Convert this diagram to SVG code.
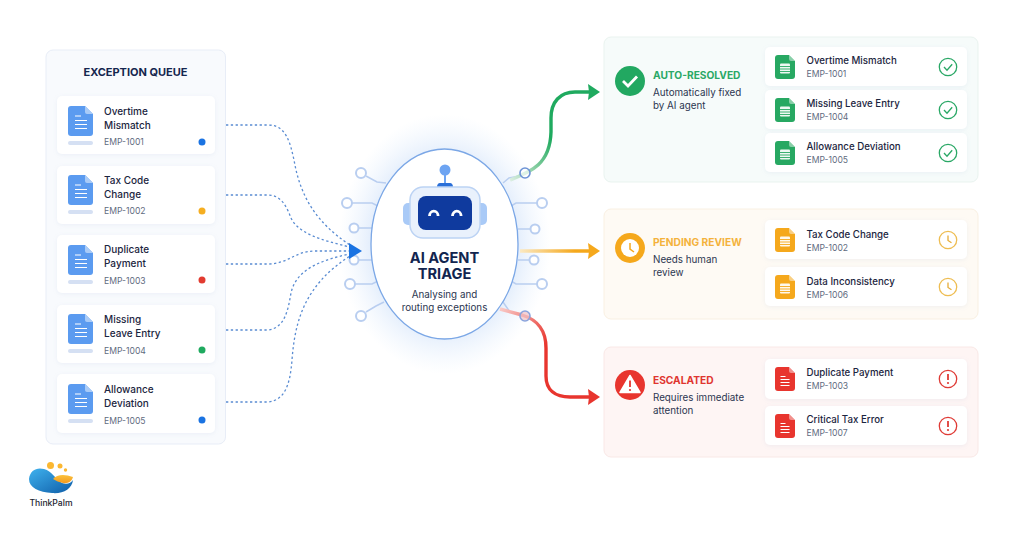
<svg xmlns="http://www.w3.org/2000/svg" width="1024" height="539" viewBox="0 0 1024 539">
<style>
text{font-family:Inter,"Liberation Sans",sans-serif}
.card{fill:#fff;filter:url(#sh)}
.t{font-size:10px;font-weight:500;fill:#1b2540}
.t2{font-size:9.700px;font-weight:500;fill:#1b2540}
.e{font-size:8.600px;fill:#5f6b80}
.h{font-size:10.200px;font-weight:700}
.d{font-size:9.800px;fill:#2b3650}
.dash{fill:none;stroke:#5a8cd2;stroke-width:1.300;stroke-dasharray:2.300 2.500}
.cir{fill:none;stroke:#b9cef0;stroke-width:1.500}
.cn{fill:#fff;stroke:#b9cef0;stroke-width:2}
</style>
<defs>
<filter id="sh" x="-10%" y="-20%" width="120%" height="140%"><feDropShadow dx="0" dy="1" stdDeviation="2" flood-color="#8aa0c8" flood-opacity=".12"/></filter>
<radialGradient id="glow"><stop offset=".68" stop-color="#c6dbf8" stop-opacity=".5"/><stop offset="1" stop-color="#dcebfc" stop-opacity="0"/></radialGradient>
<linearGradient id="gg" gradientUnits="userSpaceOnUse" x1="510" y1="180" x2="552" y2="140"><stop offset="0" stop-color="#dbeee2"/><stop offset=".5" stop-color="#7fcb9c"/><stop offset="1" stop-color="#1faa5f"/></linearGradient>
<linearGradient id="og" gradientUnits="userSpaceOnUse" x1="520" y1="0" x2="575" y2="0"><stop offset="0" stop-color="#fbe9c2"/><stop offset="1" stop-color="#f5a81c"/></linearGradient>
<linearGradient id="rg" gradientUnits="userSpaceOnUse" x1="500" y1="310" x2="546" y2="345"><stop offset="0" stop-color="#f9c9c6"/><stop offset="1" stop-color="#e8352e"/></linearGradient>
<linearGradient id="lb" x1="0" y1="0" x2="1" y2="1"><stop offset="0" stop-color="#3fb2ee"/><stop offset="1" stop-color="#0f5da8"/></linearGradient>
<linearGradient id="ly" x1="0" y1="0" x2="0" y2="1"><stop offset="0" stop-color="#fbc23c"/><stop offset="1" stop-color="#f39a1e"/></linearGradient>
<g id="docB"><path d="M3 0H17L25 8V27a3 3 0 0 1-3 3H3a3 3 0 0 1-3-3V3a3 3 0 0 1 3-3z" fill="#5b9bf0"/><path d="M17 0L25 8H19a2 2 0 0 1-2-2z" fill="#a9cbf7"/><path d="M7 10h6M7 14.500h12M7 18.500h12M7 22.500h12" stroke="#fff" stroke-width="1.100" fill="none"/><rect x="0" y="35" width="25" height="4" rx="2" fill="#d5e0f3"/></g>
<g id="docF"><path d="M3 0H14L20 6V21a3 3 0 0 1-3 3H3a3 3 0 0 1-3-3V3a3 3 0 0 1 3-3z"/><path d="M14 0L20 6H16a2 2 0 0 1-2-2z" fill="#fff" fill-opacity=".45"/><rect x="5" y="8.500" width="10" height="10" rx="1" fill="#fff" fill-opacity=".92"/><path d="M5 11.500h10M5 14h10M5 16.500h10" stroke="currentColor" stroke-width=".9" fill="none"/></g>
<g id="docS"><path d="M3 0H14L20 6V21a3 3 0 0 1-3 3H3a3 3 0 0 1-3-3V3a3 3 0 0 1 3-3z"/><path d="M14 0L20 6H16a2 2 0 0 1-2-2z" fill="#fff" fill-opacity=".45"/><path d="M5.500 9.500h5M5.500 12.500h9M5.500 15.500h9M5.500 18.500h9" stroke="#fff" stroke-width="1.100" fill="none"/></g>
<g id="ok"><circle r="8.700" fill="#fff" stroke="#2aa866" stroke-width="1.300"/><path d="M-4 0l3 3.200 5.200-6" fill="none" stroke="#2aa866" stroke-width="1.300"/></g>
<g id="clk"><circle r="8.700" fill="#fff" stroke="#eebd52" stroke-width="1.300"/><path d="M0-4.500V0.500L3.500 2.800" fill="none" stroke="#e6ad3a" stroke-width="1.300"/></g>
<g id="ex"><circle r="8.700" fill="#fff" stroke="#df3b36" stroke-width="1.300"/><path d="M0-5V1" stroke="#df3b36" stroke-width="1.800"/><circle cy="4" r="1.100" fill="#df3b36"/></g>
</defs>
<rect width="1024" height="539" fill="#fff"/>

<g id="queue">
<rect x="46" y="50" width="179.500" height="394" rx="7" fill="#f8fafd" stroke="#e8edf7"/>
<text x="135.500" y="75.500" text-anchor="middle" font-size="11px" font-weight="700" fill="#15264f">EXCEPTION QUEUE</text>
</g>
<g id="q1"><rect class="card" x="57" y="96" width="158" height="58" rx="5"/><use href="#docB" x="68" y="106"/><text class="t" x="104" y="115">Overtime</text><text class="t" x="104" y="129">Mismatch</text><text class="e" x="104" y="145">EMP-1001</text><circle cx="202" cy="142" r="3.500" fill="#1a73e2"/></g>
<g id="q2"><rect class="card" x="57" y="166" width="158" height="58" rx="5"/><use href="#docB" x="68" y="175"/><text class="t" x="104" y="184">Tax Code</text><text class="t" x="104" y="198">Change</text><text class="e" x="104" y="214">EMP-1002</text><circle cx="202" cy="211" r="3.500" fill="#f5ae21"/></g>
<g id="q3"><rect class="card" x="57" y="235" width="158" height="58" rx="5"/><use href="#docB" x="68" y="245"/><text class="t" x="104" y="253">Duplicate</text><text class="t" x="104" y="267">Payment</text><text class="e" x="104" y="284">EMP-1003</text><circle cx="202" cy="280" r="3.500" fill="#e23b30"/></g>
<g id="q4"><rect class="card" x="57" y="305" width="158" height="58" rx="5"/><use href="#docB" x="68" y="314"/><text class="t" x="104" y="323">Missing</text><text class="t" x="104" y="337">Leave Entry</text><text class="e" x="104" y="354">EMP-1004</text><circle cx="202" cy="350" r="3.500" fill="#1faa5f"/></g>
<g id="q5"><rect class="card" x="57" y="374" width="158" height="59" rx="5"/><use href="#docB" x="68" y="384"/><text class="t" x="104" y="393">Allowance</text><text class="t" x="104" y="407">Deviation</text><text class="e" x="104" y="424">EMP-1005</text><circle cx="202" cy="420" r="3.500" fill="#1a73e2"/></g>

<g id="triage">
<ellipse cx="444.500" cy="244" rx="106" ry="130" fill="url(#glow)"/>
<path class="cir" d="M366 176L377 182L386 183M352 203H372L378 206M359 228H372M359 260H372M355 284H372L378 281M366 312L376 306L384 302"/>
<path class="cir" d="M520 176L509 178L503 183M537 203H516L511 206M530 229H518M529 260H518M537 284H516L511 281M520 314L510 312L503 302"/>
<g><circle class="cn" cx="361" cy="173" r="5"/><circle class="cn" cx="347" cy="203" r="5"/><circle class="cn" cx="354" cy="228" r="4.500"/><circle class="cn" cx="354" cy="260" r="4.500"/><circle class="cn" cx="350" cy="284" r="5"/><circle class="cn" cx="361" cy="316" r="5"/><circle class="cn" cx="542" cy="203" r="5"/><circle class="cn" cx="535" cy="229" r="4.500"/><circle class="cn" cx="534" cy="260" r="4.500"/><circle class="cn" cx="542" cy="284" r="5"/></g>
<ellipse cx="444.500" cy="244" rx="73.500" ry="95" fill="#fff" stroke="#7ba7e6" stroke-width="1.300"/>
<circle cx="445" cy="170" r="5.500" fill="#6da4f2"/><path d="M445 174V183" stroke="#6da4f2" stroke-width="2"/><path d="M437 187.500a3 4 0 0 1 3-4.500h10a3 4 0 0 1 3 4.500z" fill="#2a6fd8"/>
<rect x="403" y="203" width="12" height="22" rx="5" fill="#a9caf7"/><rect x="475" y="203" width="12" height="22" rx="5" fill="#a9caf7"/>
<rect x="410" y="187" width="70" height="51" rx="13" fill="#e9f1fc" stroke="#bcd3f4" stroke-width="1.500"/>
<rect x="418" y="196" width="54" height="34" rx="8" fill="#0f3a9e"/>
<path d="M429.500 216a4.300 4.800 0 0 1 8.600 0M452.500 216a4.300 4.800 0 0 1 8.600 0" fill="none" stroke="#fff" stroke-width="2.800"/>
<text x="444.500" y="263" text-anchor="middle" font-size="14.600px" font-weight="700" fill="#12254f">AI AGENT</text>
<text x="444.500" y="279" text-anchor="middle" font-size="14.600px" font-weight="700" fill="#12254f">TRIAGE</text>
<text x="444.500" y="298" text-anchor="middle" font-size="9.800px" fill="#2b3650">Analysing and</text>
<text x="444.500" y="311" text-anchor="middle" font-size="9.800px" fill="#2b3650">routing exceptions</text>
</g>

<g id="connectors">
<path class="dash" d="M226 125H268C286 125 290 142 294 160C300 195 315 222 350 245"/>
<path class="dash" d="M226 195H268C282 195 287 208 291 218C298 233 320 240 350 247"/>
<path class="dash" d="M226 264H268C288 264 295 251 315 251H350"/>
<path class="dash" d="M226 330H268C285 328 288 310 291 293C296 270 320 260 350 254"/>
<path class="dash" d="M226 402H268C285 400 290 385 292 360C295 320 305 285 350 256"/>
<path d="M349 243L362 251L349 259z" fill="#1a73e2"/>
<path d="M510 180C530 172 550 165 551 132V118C551 102 560 92 575 92H590" fill="none" stroke="url(#gg)" stroke-width="3.400"/>
<path d="M588 84L600 92L588 100L589 92z" fill="#1faa5f"/>
<path d="M520 251H590" fill="none" stroke="url(#og)" stroke-width="3.400"/>
<path d="M588 243L600 251L588 259L589 251z" fill="#f5a81c"/>
<path d="M500 309L522 315C538 320 546 330 546 348V376C546 390 555 397 570 397H590" fill="none" stroke="url(#rg)" stroke-width="3.400"/>
<path d="M588 389L600 397L588 405L589 397z" fill="#e8352e"/>
<circle cx="525" cy="173" r="5" fill="#fff" fill-opacity=".6" stroke="#6d93d6" stroke-width="1.600"/>
<circle cx="525" cy="316" r="5" fill="#f0c0c4" fill-opacity=".7" stroke="#8aa4dd" stroke-width="1.600"/>
</g>

<g id="resolved">
<rect x="604" y="37" width="374" height="145" rx="7" fill="#f6fbfa" stroke="#e9f3ef"/>
<circle cx="630" cy="81" r="15" fill="#22a861"/><path d="M623 81l5 5 9-9.500" fill="none" stroke="#fff" stroke-width="2.800"/>
<text class="h" x="653" y="79" fill="#2aa866">AUTO-RESOLVED</text>
<text class="d" x="653" y="96">Automatically fixed</text><text class="d" x="653" y="109">by AI agent</text>
</g>
<g id="r1"><rect class="card" x="765" y="47" width="202" height="39" rx="5"/><use href="#docF" x="775" y="55" fill="#27a862" color="#27a862"/><text class="t2" x="806.500" y="64">Overtime Mismatch</text><text class="e" x="806.500" y="77">EMP-1001</text><use href="#ok" x="948" y="67"/></g>
<g id="r2"><rect class="card" x="765" y="90" width="202" height="39" rx="5"/><use href="#docF" x="775" y="98" fill="#27a862" color="#27a862"/><text class="t2" x="806.500" y="107">Missing Leave Entry</text><text class="e" x="806.500" y="120">EMP-1004</text><use href="#ok" x="948" y="110"/></g>
<g id="r3"><rect class="card" x="765" y="133" width="202" height="39" rx="5"/><use href="#docF" x="775" y="141" fill="#27a862" color="#27a862"/><text class="t2" x="806.500" y="150">Allowance Deviation</text><text class="e" x="806.500" y="163">EMP-1005</text><use href="#ok" x="948" y="153"/></g>

<g id="pending">
<rect x="604" y="209" width="374" height="110" rx="7" fill="#fefaf4" stroke="#f9f0e2"/>
<circle cx="630" cy="248" r="15" fill="#f5a81c"/><circle cx="630" cy="248" r="9" fill="#fff"/><path d="M630 243V249L634 252" fill="none" stroke="#f5a81c" stroke-width="1.500"/>
<text class="h" x="653" y="246" fill="#f4b23c">PENDING REVIEW</text>
<text class="d" x="653" y="263">Needs human</text><text class="d" x="653" y="276">review</text>
</g>
<g id="p1"><rect class="card" x="765" y="220" width="202" height="39" rx="5"/><use href="#docF" x="775" y="228" fill="#f5a81c" color="#f5a81c"/><text class="t2" x="806.500" y="238">Tax Code Change</text><text class="e" x="806.500" y="251">EMP-1002</text><use href="#clk" x="948" y="240"/></g>
<g id="p2"><rect class="card" x="765" y="267" width="202" height="39" rx="5"/><use href="#docF" x="775" y="275" fill="#f5a81c" color="#f5a81c"/><text class="t2" x="806.500" y="285">Data Inconsistency</text><text class="e" x="806.500" y="298">EMP-1006</text><use href="#clk" x="948" y="287"/></g>

<g id="escalated">
<rect x="604" y="347" width="374" height="110" rx="7" fill="#fef5f4" stroke="#f9e8e6"/>
<circle cx="630" cy="385" r="15" fill="#e8352e"/><path d="M630 375.500L640 392.500H620z" fill="#fff" stroke="#fff" stroke-width="1.500" stroke-linejoin="round"/><path d="M630 380.500V387" stroke="#e8352e" stroke-width="1.800"/><circle cx="630" cy="390" r="1.100" fill="#e8352e"/>
<text class="h" x="653" y="384" fill="#e0352f">ESCALATED</text>
<text class="d" x="653" y="401">Requires immediate</text><text class="d" x="653" y="414">attention</text>
</g>
<g id="e1"><rect class="card" x="765" y="359" width="202" height="40" rx="5"/><use href="#docS" x="775" y="367" fill="#e8352e"/><text class="t2" x="806.500" y="376">Duplicate Payment</text><text class="e" x="806.500" y="389">EMP-1003</text><use href="#ex" x="948" y="379"/></g>
<g id="e2"><rect class="card" x="765" y="406" width="202" height="39" rx="5"/><use href="#docS" x="775" y="414" fill="#e8352e"/><text class="t2" x="806.500" y="423">Critical Tax Error</text><text class="e" x="806.500" y="436">EMP-1007</text><use href="#ex" x="948" y="426"/></g>

<g id="logo">
<path d="M29 479C30 470 37 467 44 469C52 471 55 479 62 483C67 485 71 483 73 480C72 489 63 494 52 493C39 492 29 488 29 479z" fill="url(#lb)"/>
<path d="M53 479C57 474 65 474 73 477C72 481 68 484 63 483C59 482 56 481 53 479z" fill="url(#ly)"/>
<circle cx="50.500" cy="465.500" r="3.500" fill="#fbb731"/><circle cx="60" cy="466" r="2.500" fill="#fbb731"/><circle cx="65.500" cy="470" r="1.700" fill="#fbb731"/>
<text x="51" y="506" text-anchor="middle" font-size="8.600px" font-weight="500" fill="#1d2430">ThinkPalm</text>
</g>
</svg>
